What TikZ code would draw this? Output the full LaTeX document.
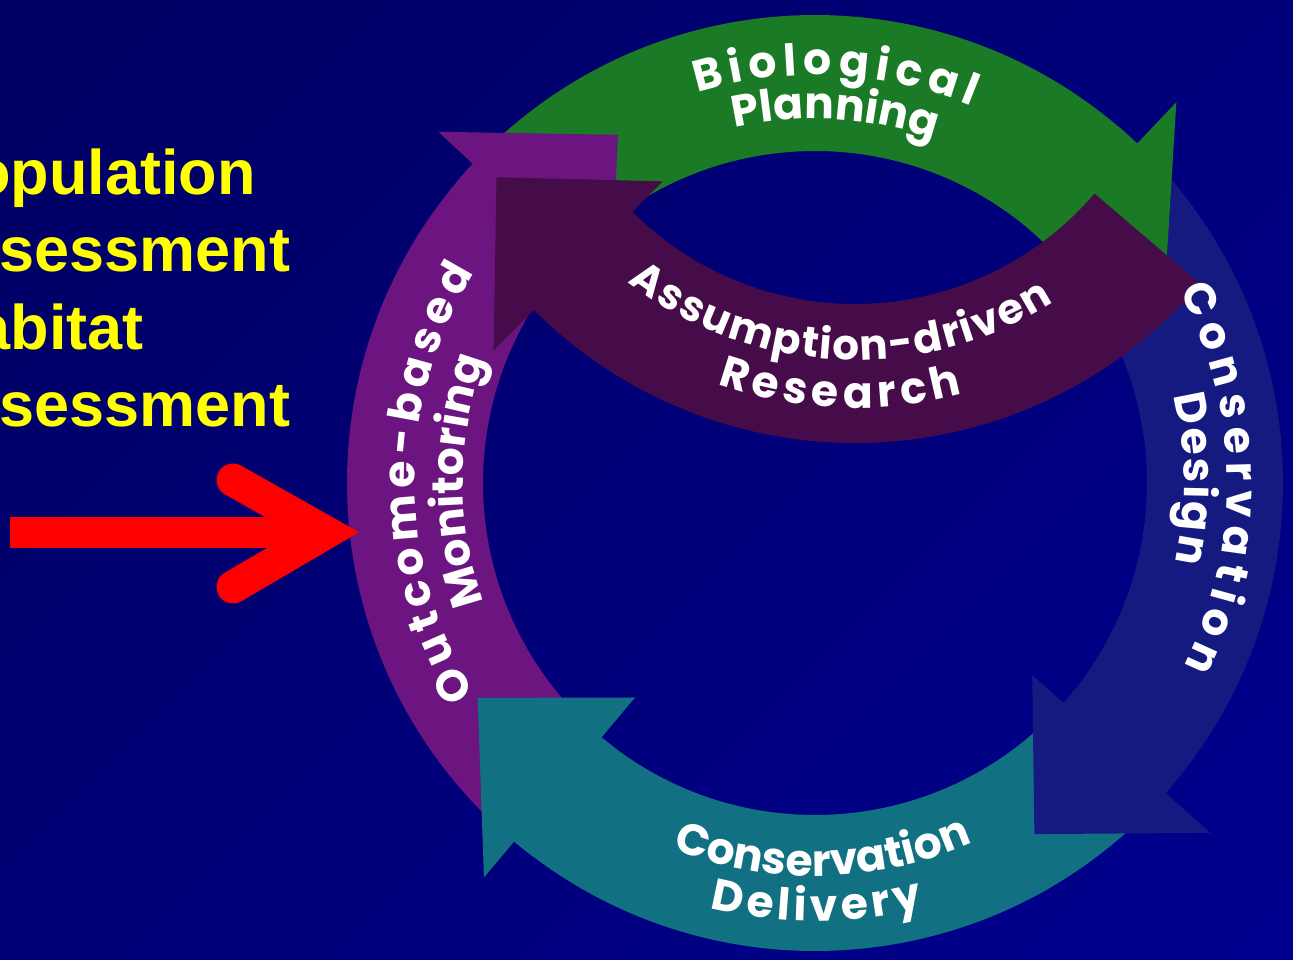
\documentclass[tikz,border=0pt]{standalone}
\usepackage{fontspec}
\setmainfont{Liberation Sans}
\newfontfamily\ringfont{Poppins}
\usetikzlibrary{calc,decorations.text}
\definecolor{bgdark}{RGB}{0,0,96}
\definecolor{bglight}{RGB}{0,0,145}
\definecolor{cgreen}{RGB}{26,122,38}
\definecolor{cpurple}{RGB}{108,20,128}
\definecolor{cdesign}{RGB}{20,26,128}
\definecolor{cteal}{RGB}{17,113,131}
\definecolor{cresearch}{RGB}{70,12,74}
\definecolor{cyellow}{RGB}{255,255,0}
% body of a clockwise ring arrow: colour, centre, inner r, outer r, tail angle, base angle
\newcommand{\arcbody}[6]{%
  \fill[#1] ($(#2)+(#5:#4)$) arc[start angle=#5, end angle=#6, radius=#4]
    -- ($(#2)+(#6:#3)$) arc[start angle=#6, end angle=#5, radius=#3] -- cycle;}
% head of a clockwise ring arrow: colour, centre, inner r, outer r, base angle, tip angle, tip r, inner barb r, outer barb r
\newcommand{\archead}[9]{%
  \fill[#1] ($(#2)+({#5+3}:#4)$) arc[start angle={#5+3}, end angle=#5, radius=#4]
    -- ($(#2)+(#5:#9)$) -- ($(#2)+(#6:#7)$) -- ($(#2)+(#5:#8)$)
    -- ($(#2)+(#5:#3)$) arc[start angle=#5, end angle={#5+3}, radius=#3] -- cycle;}
% curved label: font size, centre, radius, start angle, end angle, text
\newcommand{\ringlabel}[6]{%
  \path[decorate, decoration={text along path, text align={fit to path}, text color=white,
    text={|\ringfont\bfseries\fontsize{#1}{#1}\selectfont|#6}}]
    ($(#2)+(#4:#3)$) arc[start angle=#4, end angle=#5, radius=#3];}
\tikzset{yellowtext/.style={anchor=base west, inner sep=0pt, text=cyellow,
  font=\bfseries\fontsize{63}{63}\selectfont}}
\begin{document}
\begin{tikzpicture}[x=1pt,y=1pt]
\useasboundingbox (0,0) rectangle (1293,959);
\clip (0,0) rectangle (1293,959);
\shade[top color=bgdark, bottom color=bglight, shading angle=45] (-300,-300) rectangle (1600,1260);
\coordinate (C) at (815,476);
\coordinate (R) at (855,970);
% left text
\node[yellowtext] (t1) at (-70,764) {Population};
\node[yellowtext] (t2) at (-81,687) {Assessment};
\node[yellowtext] (t3) at (-70,609) {Habitat};
\node[yellowtext] (t4) at (-81,532) {Assessment};
% ring bodies
\arcbody{cpurple}{C}{332}{468}{225}{137}
\arcbody{cgreen}{C}{332}{468}{132}{46.5}
\arcbody{cdesign}{C}{332}{468}{42}{-41.5}
\arcbody{cteal}{C}{332}{468}{-46}{-130}
% ring heads
\archead{cpurple}{C}{332}{468}{137}{119.5}{400}{280}{515}
\archead{cgreen}{C}{332}{468}{46.5}{29}{400}{280}{525}
\archead{cdesign}{C}{332}{468}{-41.5}{-58}{414}{290}{528}
\archead{cteal}{C}{332}{468}{-130}{-147.5}{400}{280}{515}
% research arrow
\fill[cresearch] ($(R)+(-40.5:315)$) arc[start angle=-40.5, end angle=-135, radius=315]
  -- ($(R)+(-135:272)$) -- ($(R)+(-152.3:405)$) -- ($(R)+(-135:511)$)
  -- ($(R)+(-135:454)$) arc[start angle=-135, end angle=-40.5, radius=454] -- cycle;
% labels
\ringlabel{44}{C}{408}{106.8}{67.4}{Biological}
\ringlabel{44}{C}{364}{102.7}{71.6}{Planning}
\ringlabel{44}{C}{412}{27.9}{-26.4}{Conservation}
\ringlabel{44}{C}{369}{13.7}{-12.4}{Design}
\ringlabel{44}{C}{393}{-111.3}{-66.3}{Conservation}
\ringlabel{44}{C}{438}{-103.9}{-75.7}{Delivery}
\ringlabel{44}{C}{400}{211.7}{148.3}{Outcome-based}
\ringlabel{44}{C}{352}{199.9}{160.7}{Monitoring}
\ringlabel{42}{R}{371}{-127.7}{-57.7}{Assumption-driven}
\ringlabel{44}{R}{419}{-109.2}{-75.1}{Research}
% red arrow
\fill[red] (10,411) rectangle (330,442);
\draw[red, line width=33, line cap=round, line join=miter] (233,479) -- (326,426.5) -- (233,372);
\end{tikzpicture}
\end{document}
